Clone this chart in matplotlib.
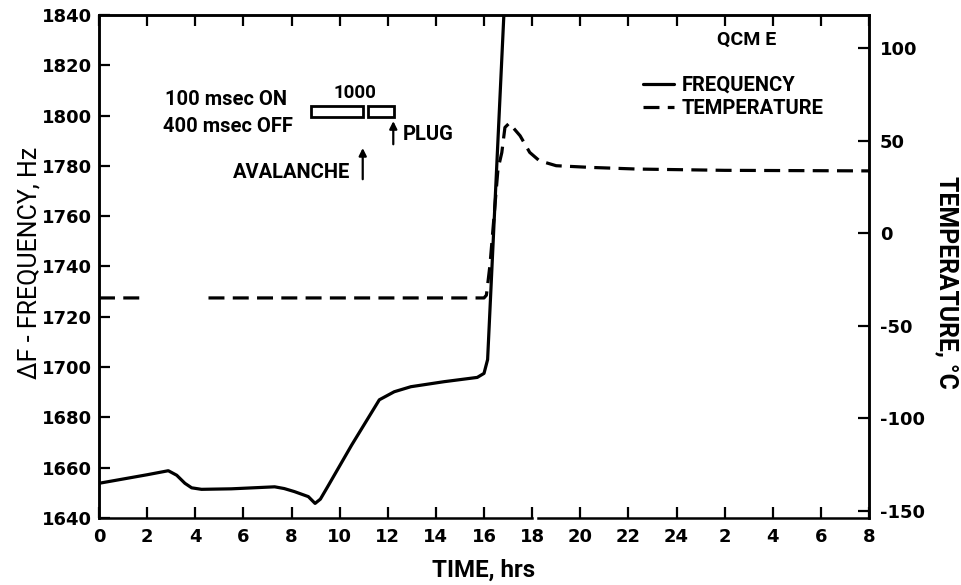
import numpy as np
import matplotlib
matplotlib.use('Agg')
import matplotlib.pyplot as plt
from matplotlib.patches import Rectangle

plt.rcParams['font.family'] = ['Roboto', 'DejaVu Sans']
plt.rcParams['axes.unicode_minus'] = False

## frequency curve (hrs, Hz)
freq_t = [0, 1.0, 2.0, 2.88, 3.23, 3.57, 3.85, 4.26, 5.5, 7.3, 7.7, 8.12, 8.7, 8.98,
          9.2, 9.5, 10.5, 11.65, 12.27, 12.96, 14.34, 15.72, 16.0, 16.15, 16.85]
freq_v = [1653.8, 1655.5, 1657.2, 1658.8, 1657.0, 1653.8, 1652.0, 1651.4, 1651.6, 1652.4,
          1651.7, 1650.5, 1648.5, 1645.8, 1647.5, 1652.4, 1669.0, 1687.0, 1690.2, 1692.2,
          1694.2, 1695.9, 1697.5, 1703.0, 1845.0]

## temperature curve (hrs, deg C), nan = gap in trace
temp_t = [0, 1.9, np.nan, 4.55, 10.0, 16.0, 16.1, 16.25, 16.58, 16.74, 16.87, 17.05,
          17.5, 17.9, 18.3, 19.0, 20.4, 22.35, 26.0, 32.0]
temp_v = [-35, -35, np.nan, -35, -35, -35, -33.5, -17, 34.6, 43.6, 57.2, 59.5,
          52.7, 43.7, 39.2, 36.5, 35.6, 34.7, 34.0, 33.7]

x_ticks = list(range(0, 33, 2))
x_labels = ['0', '2', '4', '6', '8', '10', '12', '14', '16', '18', '20', '22', '24',
            '2', '4', '6', '8']
f_ticks = list(range(1640, 1841, 20))
t_ticks = [-150, -100, -50, 0, 50, 100]

## pulse boxes (start hr, end hr, low Hz, high Hz)
box_x0 = [8.8, 11.17]
box_x1 = [10.98, 12.26]
box_lo = 1799.3
box_hi = 1803.7

fig = plt.figure(figsize=(9.61, 5.85), dpi=100)
ax = fig.add_axes([99/961, 67/585, 770/961, 503/585])
ax2 = ax.twinx()

l_freq, = ax.plot(freq_t, freq_v, color='black', lw=2.3, solid_capstyle='round')
l_temp, = ax2.plot(temp_t, temp_v, color='black', lw=2.3, dashes=(5, 2.6))

ax.set_xlim(0, 32)
ax.set_ylim(1640, 1840)
ax2.set_ylim(-154, 118)

ax.set_xticks(x_ticks)
ax.set_xticklabels(x_labels)
ax.set_yticks(f_ticks)
ax2.set_yticks(t_ticks)

for lab in ax.get_xticklabels() + ax.get_yticklabels() + ax2.get_yticklabels():
    lab.set_fontfamily('DejaVu Sans')
    lab.set_fontweight('bold')
    lab.set_fontsize(13)

ax.tick_params(axis='x', direction='in', top=True, length=8, width=1.6, pad=7)
ax.tick_params(axis='y', direction='in', length=8, width=1.6, pad=5)
ax2.tick_params(axis='y', direction='in', length=8, width=1.6, pad=8)

for a in (ax, ax2):
    for s in a.spines.values():
        s.set_linewidth(1.8)
    a.spines['bottom'].set_visible(False)

# bottom axis line is broken just after 18 hrs (day change)
ax.plot([0, 18], [0, 0], color='black', lw=1.8, transform=ax.get_xaxis_transform(), clip_on=False)
ax.plot([18.25, 32], [0, 0], color='black', lw=1.8, transform=ax.get_xaxis_transform(), clip_on=False)

# pulse schedule annotation
for x0, x1 in zip(box_x0, box_x1):
    ax.add_patch(Rectangle((x0, box_lo), x1 - x0, box_hi - box_lo, fill=False, lw=2, color='black'))

txt = dict(size=14.5, weight='bold', color='black')
ax.text(2.74, 1806.6, '100 msec ON', ha='left', va='center', **txt)
ax.text(2.66, 1795.6, '400 msec OFF', ha='left', va='center', **txt)
ax.text(10.64, 1808.9, '1000', ha='center', va='center', size=13.5, weight='bold')
ax.text(10.43, 1777.2, 'AVALANCHE', ha='right', va='center', **txt)
ax.text(12.62, 1792.3, 'PLUG', ha='left', va='center', **txt)

arw = dict(arrowstyle='-|>', color='black', lw=1.6, mutation_scale=11, shrinkA=0, shrinkB=0)
ax.annotate('', xy=(12.23, 1797.8), xytext=(12.23, 1788.6), arrowprops=arw)
ax.annotate('', xy=(10.96, 1787.1), xytext=(10.96, 1774.7), arrowprops=arw)

ax2.text(26.9, 104.5, 'QCM E', ha='center', va='center', size=14, weight='bold')
leg = ax2.legend([l_freq, l_temp], ['FREQUENCY', 'TEMPERATURE'],
                 loc='upper left', bbox_to_anchor=((633 - 99)/770, 1 - (66 - 15)/503),
                 frameon=False, borderpad=0, handlelength=1.55, handletextpad=0.35,
                 labelspacing=0.2, prop=dict(size=14.5, weight='bold'))

fig.text(30/961, 1 - 263/585, 'ΔF - FREQUENCY, Hz', rotation=90, ha='center', va='center', size=18)
fig.text(947/961, 1 - 282/585, 'TEMPERATURE, °C', rotation=-90, ha='center', va='center',
         size=17.8, weight='bold')
fig.text(484/961, 1 - 570/585, 'TIME, hrs', ha='center', va='center', size=17.4, weight='bold')

fig.savefig('out.png', dpi=100)
